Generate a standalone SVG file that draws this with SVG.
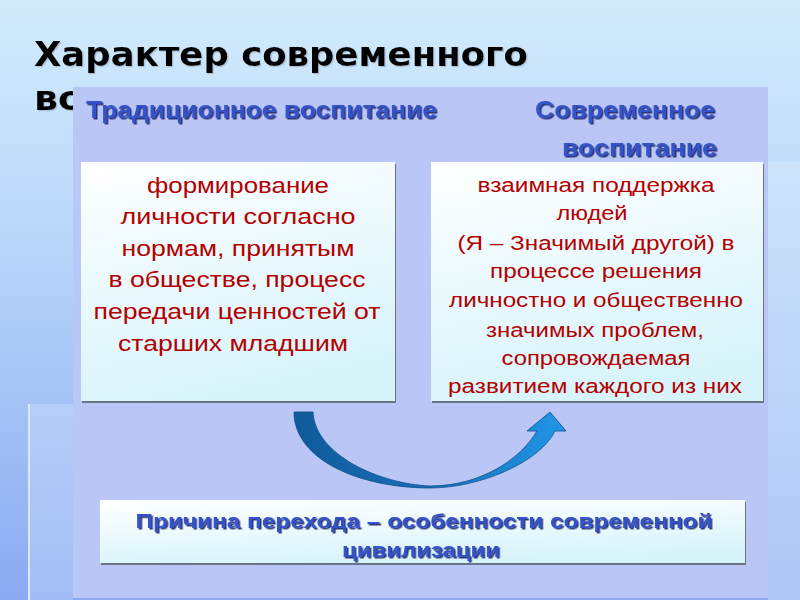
<svg xmlns="http://www.w3.org/2000/svg" width="800" height="600" viewBox="0 0 800 600">
<defs>
<linearGradient id="bg" x1="0" y1="0" x2="0" y2="1">
<stop offset="0" stop-color="#d2ecfc"/>
<stop offset="0.35" stop-color="#bcdafa"/>
<stop offset="1" stop-color="#8ca9f2"/>
</linearGradient>
<linearGradient id="strip" x1="0" y1="0" x2="0" y2="1">
<stop offset="0" stop-color="#b4cff8"/>
<stop offset="1" stop-color="#a2bdf5"/>
</linearGradient>
<linearGradient id="rstrip" x1="0" y1="0" x2="0" y2="1">
<stop offset="0" stop-color="#cde4fb"/>
<stop offset="1" stop-color="#adc7f6"/>
</linearGradient>
<linearGradient id="box" x1="0" y1="0" x2="0.3" y2="1">
<stop offset="0" stop-color="#ffffff"/>
<stop offset="1" stop-color="#d8f4fb"/>
</linearGradient>
<linearGradient id="arrowg" x1="0" y1="0" x2="1" y2="0">
<stop offset="0" stop-color="#0f5a9a"/>
<stop offset="0.5" stop-color="#1670b8"/>
<stop offset="1" stop-color="#2196e8"/>
</linearGradient>
<filter id="tshadow" x="-5%" y="-20%" width="110%" height="140%">
<feDropShadow dx="1.5" dy="1.5" stdDeviation="0.3" flood-color="#1a2468" flood-opacity="0.9"/>
</filter>
<filter id="titleshadow" x="-5%" y="-20%" width="110%" height="140%">
<feDropShadow dx="1.2" dy="1.2" stdDeviation="0.5" flood-color="#8a9ab0" flood-opacity="0.5"/>
</filter>
</defs>
<style>
.title{font-family:"DejaVu Sans",sans-serif;font-weight:bold;font-size:34px;fill:#000}
.head{font-family:"Liberation Sans",Arial,sans-serif;font-weight:bold;font-size:23px;fill:#3452c8}
.body{font-family:"Liberation Sans",Arial,sans-serif;font-size:22px;fill:#b30000;text-anchor:middle}
.body2{font-family:"Liberation Sans",Arial,sans-serif;font-size:19.5px;fill:#b30000;text-anchor:middle}
.cause{font-family:"Liberation Sans",Arial,sans-serif;font-weight:bold;font-size:20px;fill:#3452c8;text-anchor:middle}
.shadow{fill:#6b7384}
.card{fill:url(#box)}
</style>
<rect x="0" y="0" width="800" height="600" fill="url(#bg)"/>
<rect x="28" y="404" width="45" height="196" fill="url(#strip)"/>
<rect x="28" y="404" width="2" height="196" fill="#dbe9fc"/>
<rect x="768" y="162" width="32" height="438" fill="url(#rstrip)"/>
<g id="title" filter="url(#titleshadow)">
<text class="title" x="34" y="66" textLength="494" lengthAdjust="spacingAndGlyphs">Характер современного</text>
<text class="title" x="34" y="110" textLength="50" lengthAdjust="spacingAndGlyphs">во</text>
</g>
<rect id="panel" x="73" y="87" width="695" height="511" fill="#b9c6f6"/>
<g id="header-traditional" filter="url(#tshadow)">
<text class="head" x="86" y="118" textLength="351" lengthAdjust="spacingAndGlyphs">Традиционное воспитание</text>
</g>
<g id="header-modern" filter="url(#tshadow)">
<text class="head" x="535" y="118" textLength="180" lengthAdjust="spacingAndGlyphs">Современное</text>
<text class="head" x="562" y="156" textLength="155" lengthAdjust="spacingAndGlyphs">воспитание</text>
</g>
<g id="box-traditional">
<rect class="shadow" x="82" y="164" width="314" height="239"/>
<rect class="card" x="81" y="162" width="314" height="239"/>
<text class="body" x="238" y="193" textLength="182" lengthAdjust="spacingAndGlyphs">формирование</text>
<text class="body" x="238" y="224" textLength="235" lengthAdjust="spacingAndGlyphs">личности согласно</text>
<text class="body" x="238" y="256" textLength="233" lengthAdjust="spacingAndGlyphs">нормам, принятым</text>
<text class="body" x="237" y="287" textLength="257" lengthAdjust="spacingAndGlyphs">в обществе, процесс</text>
<text class="body" x="237" y="319" textLength="287" lengthAdjust="spacingAndGlyphs">передачи ценностей от</text>
<text class="body" x="233" y="351" textLength="230" lengthAdjust="spacingAndGlyphs">старших младшим</text>
</g>
<g id="box-modern">
<rect class="shadow" x="432" y="164" width="332" height="239"/>
<rect class="card" x="431" y="162" width="332" height="239"/>
<text class="body2" x="596" y="192" textLength="237" lengthAdjust="spacingAndGlyphs">взаимная поддержка</text>
<text class="body2" x="592" y="220" textLength="71" lengthAdjust="spacingAndGlyphs">людей</text>
<text class="body2" x="596" y="250" textLength="277" lengthAdjust="spacingAndGlyphs">(Я – Значимый другой) в</text>
<text class="body2" x="596" y="278" textLength="212" lengthAdjust="spacingAndGlyphs">процессе решения</text>
<text class="body2" x="596" y="307" textLength="294" lengthAdjust="spacingAndGlyphs">личностно и общественно</text>
<text class="body2" x="595" y="337" textLength="218" lengthAdjust="spacingAndGlyphs">значимых проблем,</text>
<text class="body2" x="596" y="365" textLength="189" lengthAdjust="spacingAndGlyphs">сопровождаемая</text>
<text class="body2" x="595" y="393" textLength="294" lengthAdjust="spacingAndGlyphs">развитием каждого из них</text>
</g>
<g id="connectors">
<path d="M294,412 C294,460 360,488 430,488 C480,488 540,462 555,431 L566,431 L550,412 L527,431 L537,431 C520,460 480,486 430,486 C380,484 315,455 313,412 Z" fill="url(#arrowg)" stroke="#0d4f88" stroke-width="0.8"/>
</g>
<g id="box-cause">
<rect class="shadow" x="101" y="502" width="645" height="63"/>
<rect class="card" x="100" y="500" width="645" height="63"/>
<g filter="url(#tshadow)">
<text class="cause" x="424" y="528" textLength="577" lengthAdjust="spacingAndGlyphs">Причина перехода – особенности современной</text>
<text class="cause" x="421" y="557" textLength="158" lengthAdjust="spacingAndGlyphs">цивилизации</text>
</g>
</g>
</svg>
